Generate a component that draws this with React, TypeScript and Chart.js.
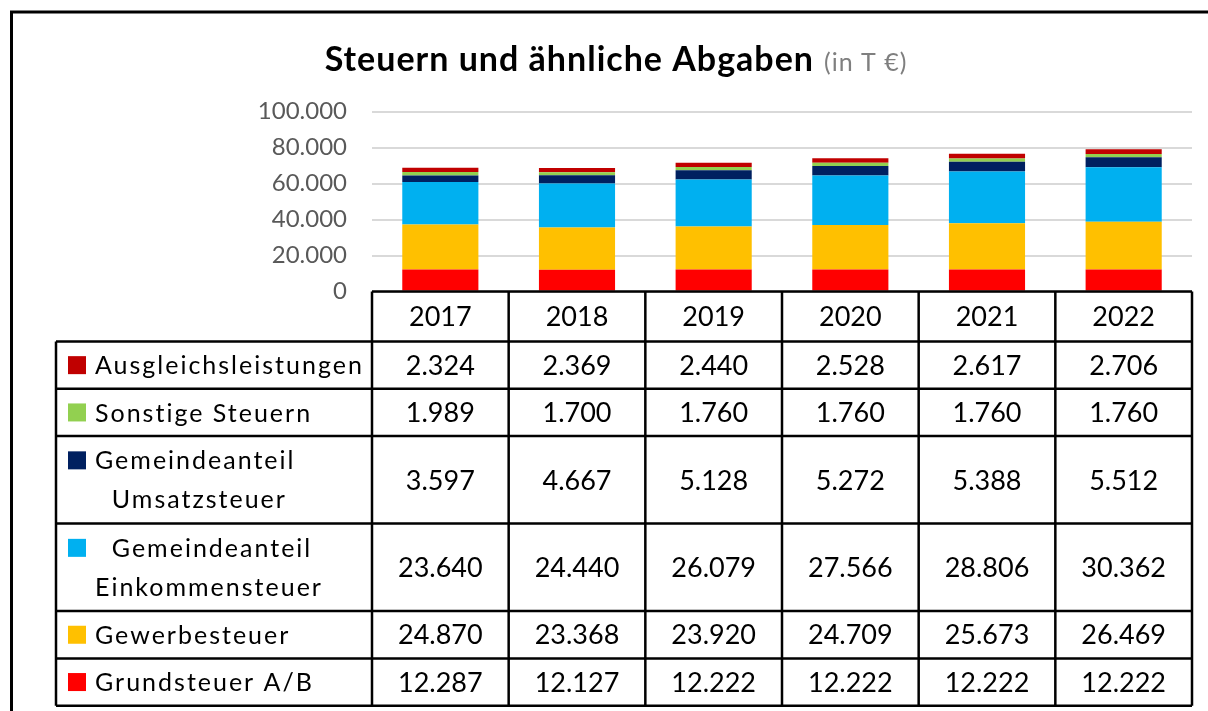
import React, { useEffect, useRef } from 'react';
import { Chart, registerables } from 'chart.js';

Chart.register(...registerables);

// ---- data ----
const years = ['2017', '2018', '2019', '2020', '2021', '2022'];
const grundsteuer = [12287, 12127, 12222, 12222, 12222, 12222];
const gewerbesteuer = [24870, 23368, 23920, 24709, 25673, 26469];
const einkommensteuer = [23640, 24440, 26079, 27566, 28806, 30362];
const umsatzsteuer = [3597, 4667, 5128, 5272, 5388, 5512];
const sonstigeSteuern = [1989, 1700, 1760, 1760, 1760, 1760];
const ausgleichsleistungen = [2324, 2369, 2440, 2528, 2617, 2706];

const seriesNames = [
  'Grundsteuer A/B',
  'Gewerbesteuer',
  'Gemeindeanteil Einkommensteuer',
  'Gemeindeanteil Umsatzsteuer',
  'Sonstige Steuern',
  'Ausgleichsleistungen',
];
const tableLabelLines = [
  ['Grundsteuer A/B'],
  ['Gewerbesteuer'],
  ['  Gemeindeanteil', 'Einkommensteuer'],
  ['Gemeindeanteil', '  Umsatzsteuer'],
  ['Sonstige Steuern'],
  ['Ausgleichsleistungen'],
];
const seriesValues = [grundsteuer, gewerbesteuer, einkommensteuer, umsatzsteuer, sonstigeSteuern, ausgleichsleistungen];
const seriesColors = ['#FF0000', '#FFC000', '#00B0F0', '#002060', '#92D050', '#C00000'];

const yMin = 0;
const yMax = 100000;
const yStep = 20000;

const titleMain = 'Steuern und ähnliche Abgaben';
const titleUnit = '(in T €)';

const fmt = (v: number) => String(Math.round(v)).replace(/\B(?=(\d{3})+(?!\d))/g, '.');

const FONT = 'Lato, "Noto Sans", sans-serif';

const overlayPlugin = {
  id: 'overlayTable',
  afterDraw(chart: any) {
    const ctx: CanvasRenderingContext2D = chart.ctx;
    const xs = chart.scales.x;
    const area = chart.chartArea;
    ctx.save();

    // outer frame (left and top edges visible)
    ctx.strokeStyle = '#000';
    ctx.lineWidth = 3;
    ctx.beginPath();
    ctx.moveTo(11.5, chart.height + 10);
    ctx.lineTo(11.5, 12);
    ctx.lineTo(chart.width + 10, 12);
    ctx.stroke();

    // title
    ctx.textBaseline = 'alphabetic';
    ctx.textAlign = 'left';
    (ctx as any).letterSpacing = '1px';
    ctx.font = `bold 34px ${FONT}`;
    const w1 = ctx.measureText(titleMain).width;
    ctx.font = `25px ${FONT}`;
    const w2 = ctx.measureText(titleUnit).width;
    const gap = 10;
    const titleCenter = 616;
    const tx = titleCenter - (w1 + gap + w2) / 2;
    ctx.fillStyle = '#000';
    ctx.font = `bold 34px ${FONT}`;
    ctx.fillText(titleMain, tx, 71);
    ctx.fillStyle = '#7F7F7F';
    ctx.font = `25px ${FONT}`;
    ctx.fillText(titleUnit, tx + w1 + gap, 71);
    (ctx as any).letterSpacing = '0px';

    // table geometry
    const n = chart.data.labels.length;
    const half = n > 1 ? (xs.getPixelForValue(1) - xs.getPixelForValue(0)) / 2 : (area.right - area.left) / 2;
    const edges: number[] = [];
    for (let i = 0; i < n; i++) edges.push(xs.getPixelForValue(i) - half);
    edges.push(xs.getPixelForValue(n - 1) + half);
    const labelLeft = 56;
    const top = area.bottom;
    const headerH = 50;
    const singleH = 47.3;
    const doubleH = 87.5;

    const rows = chart.data.datasets
      .map((ds: any, i: number) => ({ ds, idx: i }))
      .reverse();
    const rowTops: number[] = [];
    let y = top + headerH;
    const rowHs: number[] = [];
    rows.forEach((r: any) => {
      const lines = r.ds.tableLines as string[];
      const h = lines.length > 1 ? doubleH : singleH;
      rowTops.push(y);
      rowHs.push(h);
      y += h;
    });
    const bottom = y;

    // header text
    ctx.fillStyle = '#000';
    ctx.textAlign = 'center';
    ctx.textBaseline = 'middle';
    ctx.font = `27px ${FONT}`;
    for (let i = 0; i < n; i++) {
      ctx.fillText(String(chart.data.labels[i]), (edges[i] + edges[i + 1]) / 2, top + headerH / 2 + 1);
    }

    // rows
    rows.forEach((r: any, ri: number) => {
      const rt = rowTops[ri];
      const rh = rowHs[ri];
      const cy = rt + rh / 2;
      const lines = r.ds.tableLines as string[];
      const lineGap = 39;
      const firstY = cy - ((lines.length - 1) * lineGap) / 2;
      // legend square
      ctx.fillStyle = r.ds.backgroundColor;
      ctx.fillRect(68, firstY - 9, 18, 18);
      // label text
      ctx.fillStyle = '#000';
      ctx.textAlign = 'left';
      ctx.font = `25px ${FONT}`;
      (ctx as any).letterSpacing = '2px';
      lines.forEach((ln, li) => {
        ctx.fillText(ln, 95, firstY + li * lineGap + 1);
      });
      (ctx as any).letterSpacing = '0px';
      // values
      ctx.textAlign = 'center';
      ctx.font = `27px ${FONT}`;
      const data = r.ds.data as number[];
      for (let i = 0; i < n; i++) {
        ctx.fillText(fmt(data[i]), (edges[i] + edges[i + 1]) / 2, cy + 1);
      }
    });

    // grid lines
    ctx.strokeStyle = '#000';
    ctx.lineWidth = 2.5;
    ctx.beginPath();
    ctx.moveTo(edges[0], top);
    ctx.lineTo(edges[n], top);
    const hl = [top + headerH, ...rowTops.slice(1), bottom];
    hl.forEach((yy) => {
      ctx.moveTo(labelLeft, yy);
      ctx.lineTo(edges[n], yy);
    });
    ctx.moveTo(labelLeft, top + headerH);
    ctx.lineTo(labelLeft, bottom);
    for (let i = 0; i <= n; i++) {
      ctx.moveTo(edges[i], top);
      ctx.lineTo(edges[i], bottom);
    }
    ctx.stroke();

    ctx.restore();
  },
};

export default function App() {
  const ref = useRef<HTMLCanvasElement | null>(null);
  useEffect(() => {
    if (!ref.current) return;
    const chart = new Chart(ref.current, {
      type: 'bar',
      data: {
        labels: years,
        datasets: seriesNames.map((name, i) => ({
          label: name,
          data: seriesValues[i],
          backgroundColor: seriesColors[i],
          borderWidth: 0,
          barPercentage: 0.557,
          categoryPercentage: 1,
          tableLines: tableLabelLines[i],
        })) as any,
      },
      options: {
        animation: false,
        responsive: true,
        maintainAspectRatio: false,
        layout: { padding: { left: 0, right: 16, top: 111.5, bottom: 419.5 } },
        plugins: {
          legend: { display: false },
          title: { display: false },
          tooltip: { enabled: false },
        },
        scales: {
          x: {
            stacked: true,
            display: false,
            grid: { display: false },
          },
          y: {
            stacked: true,
            min: yMin,
            max: yMax,
            ticks: {
              stepSize: yStep,
              padding: 25,
              color: '#595959',
              font: { family: FONT, size: 24 },
              callback: (v: any) => fmt(Number(v)),
            },
            grid: { color: '#D9D9D9', lineWidth: 2, drawTicks: false },
            border: { display: false },
            afterFit: (s: any) => {
              s.width = 372;
            },
          },
        },
      },
      plugins: [overlayPlugin],
    });
    return () => chart.destroy();
  }, []);
  return (
    <div style={{ position: 'absolute', left: 0, top: 0, width: 1208, height: 711, background: '#fff' }}>
      <canvas ref={ref} />
    </div>
  );
}
